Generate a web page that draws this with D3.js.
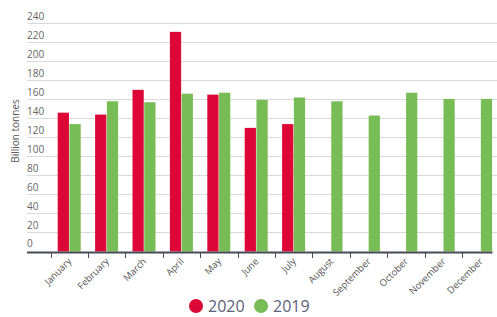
<!DOCTYPE html>
<html>
<head>
<meta charset="utf-8">
<script src="https://cdn.jsdelivr.net/npm/d3@7"></script>
<style>
  body { margin: 0; background: #fff; }
  svg { font-family: "Open Sans", "DejaVu Sans", sans-serif; }
</style>
</head>
<body>
<svg width="497" height="317"></svg>
<script>
var months = ["January", "February", "March", "April", "May", "June", "July",
              "August", "September", "October", "November", "December"];
var series = ["2020", "2019"];
var values2020 = [146, 144, 170, 231, 165, 130, 134, null, null, null, null, null];
var values2019 = [134, 158, 157, 166, 167, 159.5, 162, 158, 143, 167, 160.5, 160.5];
var yTicks = [0, 20, 40, 60, 80, 100, 120, 140, 160, 180, 200, 220, 240];

var colors = { "2020": "#dc0637", "2019": "#78bc55" };

var svg = d3.select("svg");

var x = d3.scaleBand().domain(months).range([50.5, 499.3]);
var x1 = d3.scaleBand().domain(series).range([7.2, 30.2]).paddingInner(0.045);
var y = d3.scaleLinear().domain([0, 240]).range([251.5, 23.3]);

// gridlines + y labels
svg.append("g").selectAll("line")
    .data(yTicks.filter(function(d) { return d > 0; }))
  .enter().append("line")
    .attr("x1", 27).attr("x2", 497)
    .attr("y1", function(d) { return Math.round(y(d)) + 0.5; })
    .attr("y2", function(d) { return Math.round(y(d)) + 0.5; })
    .attr("stroke", "#d9d9d9").attr("stroke-width", 1.2);

svg.append("g").selectAll("text")
    .data(yTicks)
  .enter().append("text")
    .attr("x", 27)
    .attr("y", function(d) { return y(d) - (d ? 3 : 5); })
    .attr("font-size", 10)
    .attr("fill", "#666")
    .text(function(d) { return d; });

svg.append("text")
    .attr("transform", "translate(19,131)rotate(-90)")
    .attr("text-anchor", "middle")
    .attr("font-size", 10)
    .attr("fill", "#555")
    .text("Billion tonnes");

// bars
var rows = months.map(function(m, i) {
  return { month: m, vals: [{ s: "2020", v: values2020[i] }, { s: "2019", v: values2019[i] }] };
});

svg.append("g").selectAll("g")
    .data(rows)
  .enter().append("g")
    .attr("transform", function(d) { return "translate(" + x(d.month) + ",0)"; })
  .selectAll("rect")
    .data(function(d) { return d.vals.filter(function(e) { return e.v != null; }); })
  .enter().append("rect")
    .attr("x", function(d) { return x1(d.s); })
    .attr("width", x1.bandwidth())
    .attr("y", function(d) { return y(d.v); })
    .attr("height", function(d) { return y(0) - y(d.v); })
    .attr("fill", function(d) { return colors[d.s]; });

// x axis
svg.append("line")
    .attr("x1", 27).attr("x2", 492.5)
    .attr("y1", 252.5).attr("y2", 252.5)
    .attr("stroke", "#484a55").attr("stroke-width", 2);

svg.append("g").selectAll("line")
    .data(months)
  .enter().append("line")
    .attr("x1", function(d) { return Math.round(x(d)) + 0.5; })
    .attr("x2", function(d) { return Math.round(x(d)) + 0.5; })
    .attr("y1", 253).attr("y2", 258)
    .attr("stroke", "#484a55").attr("stroke-width", 1);

svg.append("g").selectAll("text")
    .data(months)
  .enter().append("text")
    .attr("transform", function(d) {
      return "translate(" + (x(d) + x.bandwidth() / 2 + 3) + ",262)rotate(-45)";
    })
    .attr("text-anchor", "end")
    .attr("font-size", 9.5)
    .attr("fill", "#555")
    .text(function(d) { return d; });

// legend
var legend = svg.append("g").selectAll("g")
    .data(series)
  .enter().append("g")
    .attr("transform", function(d, i) { return "translate(" + (196 + i * 65) + ",306)"; });

legend.append("circle")
    .attr("r", 7)
    .attr("fill", function(d) { return colors[d]; });

legend.append("text")
    .attr("x", 12)
    .attr("y", 6)
    .attr("font-size", 16)
    .attr("fill", "#5c6079")
    .text(function(d) { return d; });
</script>
</body>
</html>
